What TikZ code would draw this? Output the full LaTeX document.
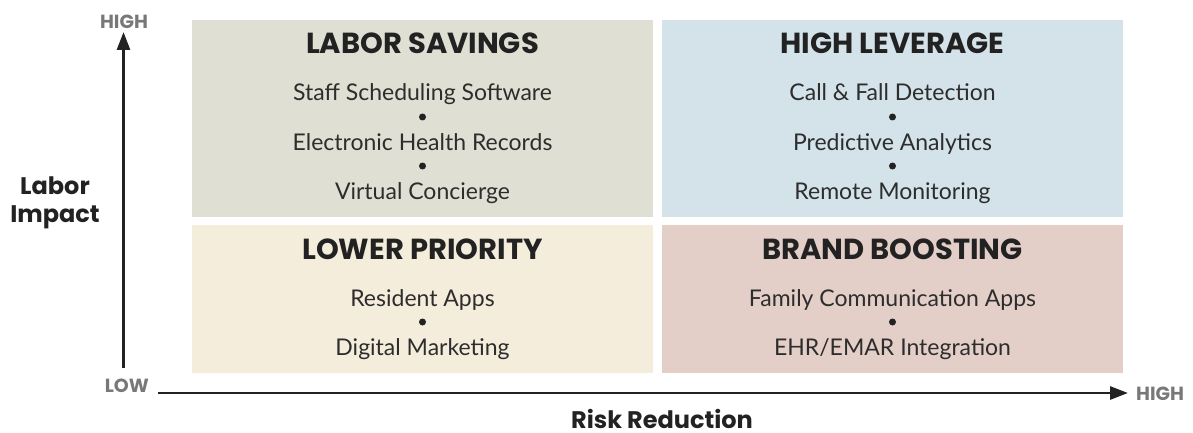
\documentclass[tikz,border=0pt]{standalone}
\usepackage{fontspec}
\usetikzlibrary{arrows.meta}
\newfontfamily\headfont{Poppins}
\newfontfamily\itemfont{Lato}
\definecolor{savings}{RGB}{223,224,211}
\definecolor{leverage}{RGB}{212,226,234}
\definecolor{lowerprio}{RGB}{245,237,220}
\definecolor{brand}{RGB}{228,207,200}
\definecolor{inkdark}{RGB}{34,34,34}
\definecolor{inkitem}{RGB}{45,45,45}
\definecolor{axisgray}{RGB}{120,120,120}
\begin{document}
\begin{tikzpicture}[x=1pt,y=-1pt,
  quad/.style={fill=#1,draw=none},
  heading/.style={anchor=base,inner sep=0pt,text=inkdark,font=\headfont\fontsize{29}{29}\selectfont\bfseries},
  item/.style={anchor=base,inner sep=0pt,text=inkitem,font=\itemfont\fontsize{23}{23}\selectfont},
  dot/.style={circle,fill=inkdark,inner sep=0pt,minimum size=7pt},
  level/.style={inner sep=0pt,text=axisgray,font=\headfont\fontsize{19}{19}\selectfont\bfseries},
  axislabel/.style={inner sep=0pt,text=inkdark,font=\headfont\fontsize{24}{28}\selectfont\bfseries,align=center},
  axis/.style={line width=2.8pt,draw=inkdark,-{Triangle[length=18pt,width=13pt]}}]
\useasboundingbox (0,0) rectangle (1193,433);

% quadrant backgrounds
\fill[quad=savings]   (192,20)  rectangle (653,217);
\fill[quad=leverage]  (662,20)  rectangle (1123,217);
\fill[quad=lowerprio] (192,225) rectangle (653,373);
\fill[quad=brand]     (662,225) rectangle (1123,373);

% top left
\node[heading] (hls) at (422.5,54) {LABOR SAVINGS};
\node[item] (ls1) at (422.5,101) {Staff Scheduling Software};
\node[dot]  (lsd1) at (422.5,117) {};
\node[item] (ls2) at (422.5,150) {Electronic Health Records};
\node[dot]  (lsd2) at (422.5,166) {};
\node[item] (ls3) at (422.5,199) {Virtual Concierge};

% top right
\node[heading] (hhl) at (892.5,54) {HIGH LEVERAGE};
\node[item] (hl1) at (892.5,101) {Call \& Fall Detection};
\node[dot]  (hld1) at (892.5,117) {};
\node[item] (hl2) at (892.5,150) {Predictive Analytics};
\node[dot]  (hld2) at (892.5,166) {};
\node[item] (hl3) at (892.5,199) {Remote Monitoring};

% bottom left
\node[heading] (hlp) at (422.5,259) {LOWER PRIORITY};
\node[item] (lp1) at (422.5,306) {Resident Apps};
\node[dot]  (lpd1) at (422.5,322) {};
\node[item] (lp2) at (422.5,355) {Digital Marketing};

% bottom right
\node[heading] (hbb) at (892.5,259) {BRAND BOOSTING};
\node[item] (bb1) at (892.5,306) {Family Communication Apps};
\node[dot]  (bbd1) at (892.5,322) {};
\node[item] (bb2) at (892.5,355) {EHR/EMAR Integration};

% axes
\coordinate (yfoot) at (123.5,368);
\coordinate (ytip)  at (123.5,32);
\coordinate (xfoot) at (158,393);
\coordinate (xtip)  at (1128,393);
\draw[axis] (yfoot) -- (ytip);
\draw[axis] (xfoot) -- (xtip);

\node[level] (yhigh) at (124,22) {HIGH};
\node[level,anchor=east] (xlow) at (149,386) {LOW};
\node[level,anchor=west] (xhigh) at (1136,394) {HIGH};

\node[axislabel] (ylab) at (55,203) {Labor\\Impact};
\node[axislabel,anchor=base,text depth=0pt] (xlab) at (662,428) {Risk Reduction};
\end{tikzpicture}
\end{document}
